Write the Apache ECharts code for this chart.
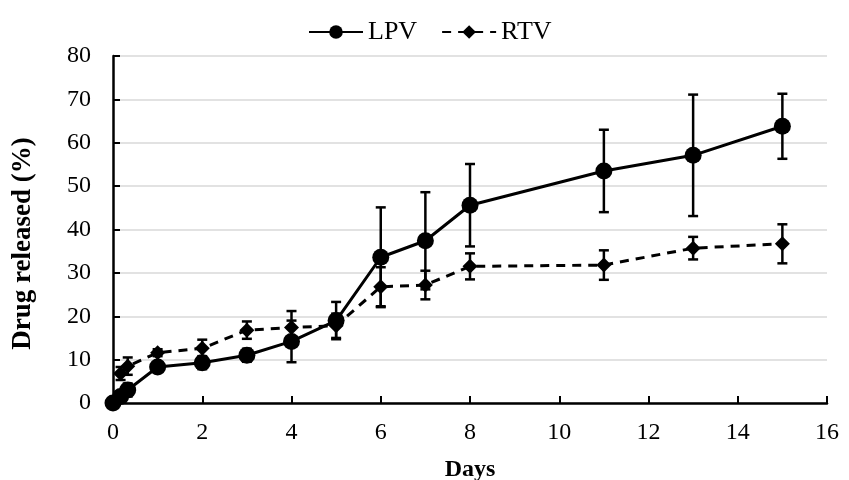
<!DOCTYPE html>
<html>
<head>
<meta charset="utf-8">
<script src="https://cdn.jsdelivr.net/npm/echarts@6/dist/echarts.min.js"></script>
<style>
  html, body { margin: 0; padding: 0; background: #fff; }
  #chart { width: 849px; height: 480px; }
</style>
</head>
<body>
<div id="chart"></div>
<script>
// Release data (mean and SD, % released)
const lpvDays = [0, 0.17, 0.33, 1, 2, 3, 4, 5, 6, 7, 8, 11, 13, 15];
const lpvMean = [0, 1.5, 3, 8.3, 9.3, 11, 14.2, 19, 33.6, 37.4, 45.6, 53.5, 57.1, 63.8];
const lpvSd = [0, 0.8, 1.5, 1, 1.5, 1.5, 4.8, 4.3, 11.5, 11.2, 9.5, 9.5, 14, 7.5];

const rtvDays = [0.17, 0.33, 1, 2, 3, 4, 5, 6, 7, 8, 11, 13, 15];
const rtvMean = [6.8, 8.5, 11.6, 12.6, 16.8, 17.4, 17.8, 26.8, 27.2, 31.5, 31.8, 35.7, 36.7];
const rtvSd = [1.5, 2, 0.8, 2, 2, 3.8, 2.8, 4.5, 3.3, 3, 3.4, 2.6, 4.5];

const seriesNames = ["LPV", "RTV"];

const serif = "Liberation Serif";

const chart = echarts.init(document.getElementById("chart"), null, { renderer: "canvas" });

function errorData(days, mean, sd) {
  return days.map((d, i) => [d, mean[i] - sd[i], mean[i] + sd[i]]);
}

function errorBars(name, days, mean, sd) {
  return {
    name: name + " SD",
    type: "custom",
    z: 1,
    data: errorData(days, mean, sd),
    renderItem: function (params, api) {
      const lo = api.coord([api.value(0), api.value(1)]);
      const hi = api.coord([api.value(0), api.value(2)]);
      const half = 5;
      const style = { stroke: "#000", lineWidth: 2.5 };
      return {
        type: "group",
        children: [
          { type: "line", shape: { x1: lo[0], y1: lo[1], x2: hi[0], y2: hi[1] }, style: style },
          { type: "line", shape: { x1: lo[0] - half, y1: lo[1], x2: lo[0] + half, y2: lo[1] }, style: style },
          { type: "line", shape: { x1: hi[0] - half, y1: hi[1], x2: hi[0] + half, y2: hi[1] }, style: style },
        ],
      };
    },
  };
}

const option = {
  backgroundColor: "#fff",
  animation: false,
  textStyle: { fontFamily: serif, color: "#000" },
  legend: {
    data: seriesNames,
    top: 14,
    left: 303,
    itemWidth: 54,
    itemHeight: 17,
    itemGap: 24,
    textStyle: { fontFamily: serif, fontSize: 26, color: "#000" },
  },
  grid: { left: 113, right: 22, top: 56, bottom: 77, outerBoundsMode: "none" },
  xAxis: {
    type: "value",
    min: 0,
    max: 16,
    interval: 2,
    name: "Days",
    nameLocation: "middle",
    nameGap: 55,
    nameTextStyle: { fontFamily: serif, fontSize: 24, fontWeight: "bold", color: "#000" },
    axisLine: { lineStyle: { color: "#000", width: 2.5 } },
    axisTick: { inside: true, length: 7, lineStyle: { color: "#000", width: 2 } },
    axisLabel: { fontFamily: serif, fontSize: 24, color: "#000", margin: 18 },
    splitLine: { show: false },
  },
  yAxis: {
    type: "value",
    min: 0,
    max: 80,
    interval: 10,
    name: "Drug released (%)",
    nameLocation: "middle",
    nameGap: 76,
    nameTextStyle: {
      fontFamily: serif,
      fontSize: 27,
      fontWeight: "bold",
      color: "#000",
      padding: [0, 28, 0, 0],
    },
    axisLine: { show: true, lineStyle: { color: "#000", width: 2.5 } },
    axisTick: { show: true, inside: true, length: 7, lineStyle: { color: "#000", width: 2 } },
    axisLabel: { fontFamily: serif, fontSize: 24, color: "#000", margin: 22 },
    splitLine: { show: true, lineStyle: { color: "#d9d9d9", width: 1.5 } },
  },
  series: [
    errorBars("LPV", lpvDays, lpvMean, lpvSd),
    errorBars("RTV", rtvDays, rtvMean, rtvSd),
    {
      name: "LPV",
      type: "line",
      z: 3,
      data: lpvDays.map((d, i) => [d, lpvMean[i]]),
      symbol: "circle",
      symbolSize: 17,
      itemStyle: { color: "#000" },
      lineStyle: { color: "#000", width: 3, type: "solid" },
    },
    {
      name: "RTV",
      type: "line",
      z: 3,
      data: rtvDays.map((d, i) => [d, rtvMean[i]]),
      symbol: "diamond",
      symbolSize: 15,
      itemStyle: { color: "#000" },
      lineStyle: { color: "#000", width: 3, type: [9, 7] },
    },
  ],
};

chart.setOption(option);

window.addEventListener("resize", () => chart.resize());
</script>
</body>
</html>
